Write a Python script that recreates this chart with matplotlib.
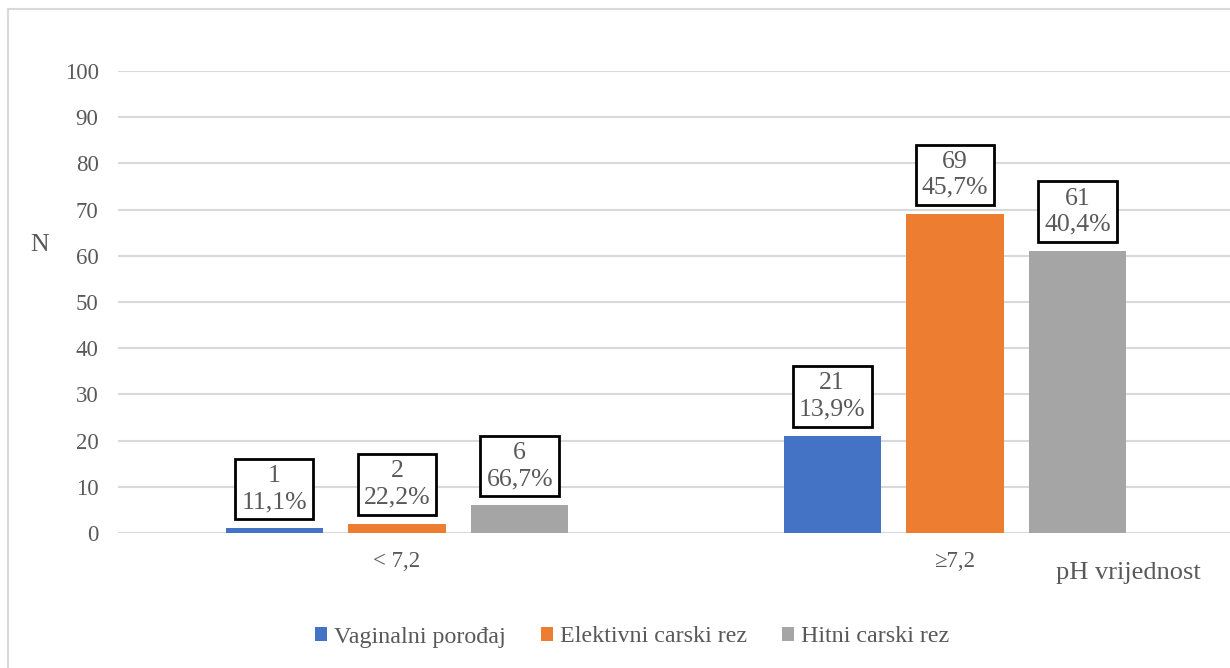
import matplotlib.pyplot as plt
import numpy as np

categories = ['< 7,2', '\u22657,2']
series = ['Vaginalni porođaj', 'Elektivni carski rez', 'Hitni carski rez']
values = [[1, 21], [2, 69], [6, 61]]
percents = [['11,1%', '13,9%'], ['22,2%', '45,7%'], ['66,7%', '40,4%']]
colors = ['#4472c4', '#ed7d31', '#a5a5a5']

plt.rcParams['font.family'] = ['Liberation Serif', 'DejaVu Serif']
txt = '#595959'
fs = 16.5

fig = plt.figure(figsize=(12.3, 6.68), dpi=100)
# light frame of the chart area (right/bottom edges cut off in reference)
fig.add_artist(plt.Line2D([8/1230, 8/1230], [0, 1 - 9/668], color='#d9d9d9', lw=1.5))
fig.add_artist(plt.Line2D([8/1230, 1], [1 - 9/668, 1 - 9/668], color='#d9d9d9', lw=1.5))

ax = fig.add_axes([118/1230, 1 - 533/668, (1234 - 118)/1230, (533 - 71)/668])
x = np.arange(len(categories))
width = 0.174
offs = [-0.22, 0, 0.22]
for i, s in enumerate(series):
    bars = ax.bar(x + offs[i], values[i], width, color=colors[i], label=s, zorder=3)
    for j, b in enumerate(bars):
        ax.annotate(f'{values[i][j]}\n{percents[i][j]}',
                    (b.get_x() + b.get_width() / 2, b.get_height()),
                    xytext=(0, 11), textcoords='offset points',
                    ha='center', va='bottom', fontsize=18.5, color=txt,
                    linespacing=1.25,
                    bbox=dict(boxstyle='square,pad=0.24', fc='white', ec='black', lw=2),
                    zorder=5)

ax.set_xlim(-0.5, 1.5)
ax.set_ylim(0, 100)
ax.set_yticks(range(0, 101, 10))
ax.yaxis.grid(True, color='#d9d9d9', lw=1.5, zorder=0)
ax.set_xticks(x)
ax.set_xticklabels(categories)
ax.tick_params(axis='both', length=0, labelsize=fs, labelcolor=txt, pad=14)
ax.tick_params(axis='x', pad=13)
for sp in ax.spines.values():
    sp.set_visible(False)
ax.axhline(0, color='#d9d9d9', lw=1.5, zorder=1)

fig.text(40/1230, 1 - 245/668, 'N', fontsize=18.5, color=txt, ha='center', va='center')
fig.text(1128/1230, 1 - 573/668, 'pH vrijednost', fontsize=19, color=txt, ha='center', va='center')

fig.legend(loc='center', bbox_to_anchor=(632/1230, 1 - 637/668), ncol=3, frameon=False,
           fontsize=17.3, labelcolor=txt, handlelength=0.5, handleheight=0.5,
           handletextpad=0.3, columnspacing=1.45)

fig.savefig('out.png', dpi=100)
